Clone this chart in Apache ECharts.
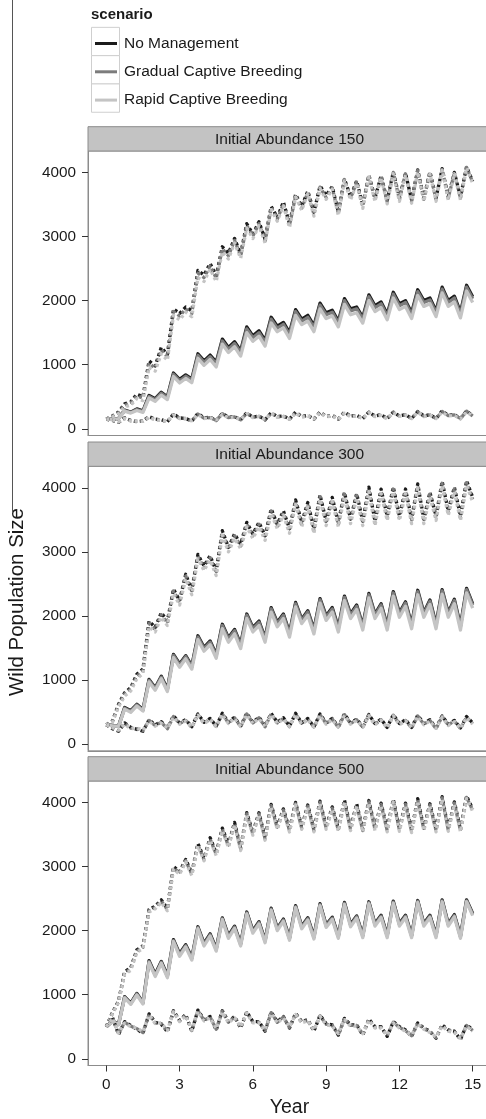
<!DOCTYPE html>
<html>
<head>
<meta charset="utf-8">
<title>Wild Population Size by Scenario</title>
<script src="https://cdn.jsdelivr.net/npm/echarts@6.0.0/dist/echarts.min.js"></script>
<style>
  html, body { margin: 0; padding: 0; background: #ffffff; }
  #chart { width: 486px; height: 1119px; }
</style>
</head>
<body>
<div id="chart"></div>
<script>
// Time steps (years, quarterly)
const quarters = [0,0.25,0.5,0.75,1,1.25,1.5,1.75,2,2.25,2.5,2.75,3,3.25,3.5,3.75,4,4.25,4.5,4.75,5,5.25,5.5,5.75,6,6.25,6.5,6.75,7,7.25,7.5,7.75,8,8.25,8.5,8.75,9,9.25,9.5,9.75,10,10.25,10.5,10.75,11,11.25,11.5,11.75,12,12.25,12.5,12.75,13,13.25,13.5,13.75,14,14.25,14.5,14.75,15];

const scenarios = ['No Management', 'Gradual Captive Breeding', 'Rapid Captive Breeding'];
const panelTitles = ['Initial Abundance 150', 'Initial Abundance 300', 'Initial Abundance 500'];
const yTicks = [0, 1000, 2000, 3000, 4000];
const xTicks = [0, 3, 6, 9, 12, 15];

// ---- Initial abundance 150 ----
const u1_nm = [150,200,260,390,420,540,500,1060,980,1270,1160,1870,1800,1900,1840,2470,2400,2580,2390,2840,2740,2970,2730,3200,3040,3230,2960,3470,3300,3540,3200,3660,3470,3710,3380,3790,3640,3780,3380,3900,3620,3870,3490,3960,3600,3950,3560,4010,3600,3990,3570,4040,3600,4010,3600,4060,3620,4000,3620,4090,3860];
const u1_gr = [150,195,250,370,400,515,480,1020,950,1230,1120,1830,1760,1870,1800,2430,2360,2540,2350,2810,2700,2940,2700,3170,3010,3200,2930,3450,3270,3510,3170,3640,3440,3690,3350,3770,3610,3760,3360,3890,3600,3850,3470,3950,3580,3940,3540,4000,3580,3980,3550,4030,3580,4000,3580,4050,3600,3990,3600,4080,3850];
const u1_rp = [150,185,235,340,370,470,440,960,900,1170,1070,1770,1700,1820,1750,2360,2300,2490,2300,2760,2650,2900,2660,3130,2970,3170,2900,3420,3240,3480,3140,3620,3410,3670,3320,3750,3580,3740,3330,3870,3570,3830,3440,3930,3550,3920,3510,3980,3550,3960,3520,4010,3550,3980,3550,4040,3570,3980,3570,4070,3830];
const m1_nm = [150,150,160,290,260,310,280,520,470,570,500,870,770,840,780,1170,1060,1150,1040,1400,1270,1360,1220,1590,1450,1530,1380,1740,1600,1660,1500,1860,1710,1770,1610,1960,1810,1850,1680,2030,1870,1900,1740,2090,1920,1980,1790,2130,1950,2000,1810,2170,2000,2040,1840,2210,2000,2070,1820,2240,2060];
const m1_gr = [150,150,160,285,255,300,270,505,455,555,485,850,750,820,760,1145,1035,1125,1015,1370,1240,1330,1190,1560,1420,1500,1350,1710,1570,1630,1470,1830,1680,1740,1580,1930,1780,1820,1650,2000,1840,1870,1710,2060,1890,1950,1760,2100,1920,1970,1780,2140,1970,2010,1810,2180,1970,2040,1790,2210,2030];
const m1_rp = [150,145,155,275,245,285,255,480,430,525,455,815,715,785,720,1100,990,1080,965,1320,1190,1280,1135,1500,1365,1445,1290,1650,1515,1575,1410,1770,1625,1680,1515,1870,1720,1760,1590,1940,1780,1810,1650,2000,1830,1890,1700,2040,1860,1910,1720,2080,1910,1950,1750,2120,1910,1980,1730,2150,1970];
const l1_nm = [150,130,100,170,130,110,120,190,150,140,110,230,170,160,120,240,170,180,130,240,180,190,140,250,180,200,140,250,190,200,150,260,190,210,150,260,190,210,150,260,200,210,160,260,200,220,160,260,200,220,160,270,200,220,160,280,210,220,160,280,200];
const l1_gr = [150,135,105,165,125,115,120,180,145,135,115,220,165,160,120,230,165,175,130,235,175,185,140,240,180,195,140,245,185,195,150,250,185,205,150,255,190,205,150,250,195,205,160,255,195,215,155,255,200,215,160,265,195,215,160,270,205,215,160,275,200];
const l1_rp = [150,140,110,160,120,120,115,175,140,130,120,210,160,155,125,220,160,170,135,225,170,180,145,235,175,190,145,240,180,190,150,245,180,200,155,250,185,200,150,245,190,200,160,250,190,210,155,250,195,210,160,255,190,210,160,260,200,210,155,265,195];

// ---- Initial abundance 300 ----
const u2_nm = [300,360,620,800,880,1090,1170,1920,1820,2050,1920,2420,2240,2650,2400,2960,2780,2940,2700,3330,3070,3280,3120,3460,3280,3460,3250,3670,3430,3640,3360,3810,3460,3770,3360,3890,3480,3850,3460,3930,3510,3910,3480,4010,3480,3980,3560,4010,3560,3980,3510,4060,3510,3930,3560,4100,3640,4010,3560,4110,3850];
const u2_gr = [300,350,600,780,860,1060,1140,1880,1790,2020,1890,2390,2210,2620,2370,2930,2750,2910,2670,3300,3040,3250,3090,3430,3250,3430,3220,3640,3400,3610,3330,3780,3430,3740,3330,3860,3450,3820,3430,3900,3480,3880,3450,3980,3450,3950,3530,3980,3530,3950,3480,4030,3480,3900,3530,4070,3610,3980,3530,4080,3820];
const u2_rp = [300,340,580,750,830,1020,1100,1830,1750,1980,1850,2350,2170,2580,2330,2890,2710,2870,2630,3260,3000,3210,3050,3390,3210,3390,3180,3600,3360,3570,3290,3740,3390,3700,3290,3820,3410,3780,3390,3860,3440,3840,3410,3940,3410,3910,3490,3940,3490,3910,3440,3990,3440,3860,3490,4030,3570,3940,3490,4040,3780];
const m2_nm = [300,290,280,570,520,620,540,1010,880,1060,860,1400,1250,1380,1220,1690,1510,1610,1400,1870,1660,1790,1560,2030,1820,1920,1660,2130,1900,2030,1740,2210,1950,2080,1790,2270,2000,2130,1820,2310,2030,2170,1850,2350,2030,2190,1850,2380,2050,2220,1870,2400,2050,2250,1870,2410,2050,2260,1850,2430,2190];
const m2_gr = [300,290,280,560,510,610,530,995,865,1045,845,1385,1235,1365,1205,1670,1490,1590,1380,1850,1640,1770,1540,2010,1800,1900,1640,2110,1880,2010,1720,2190,1930,2060,1770,2250,1980,2110,1800,2290,2010,2150,1830,2330,2010,2170,1830,2360,2030,2200,1850,2380,2030,2230,1850,2390,2030,2240,1830,2410,2170];
const m2_rp = [300,285,275,545,495,595,515,970,840,1020,820,1350,1200,1330,1170,1630,1450,1550,1340,1800,1590,1720,1490,1960,1750,1850,1590,2060,1830,1960,1670,2140,1880,2010,1720,2200,1930,2060,1750,2240,1960,2100,1780,2280,1960,2120,1780,2310,1980,2150,1800,2330,1980,2180,1800,2340,1980,2190,1780,2360,2120];
const l2_nm = [300,240,200,330,260,230,200,380,300,350,250,440,330,380,270,470,340,400,280,480,340,420,280,480,340,420,280,480,340,410,280,480,330,400,270,470,330,400,270,470,330,390,270,460,320,390,260,460,320,380,260,450,320,380,250,440,310,370,250,430,330];
const l2_gr = [300,250,210,320,250,240,210,370,290,340,240,430,320,370,260,460,330,390,270,470,330,410,270,470,330,410,270,470,330,400,270,470,320,390,260,460,320,390,260,460,320,380,260,450,310,380,250,450,310,370,250,440,310,370,240,430,300,360,240,420,320];
const l2_rp = [300,260,220,310,240,250,220,360,280,330,250,420,310,360,265,450,320,380,275,460,320,400,275,460,320,400,275,460,320,390,275,460,310,380,265,450,310,380,265,450,310,370,265,440,300,370,255,440,300,360,255,430,300,360,245,420,290,350,245,410,310];

// ---- Initial abundance 500 ----
const u3_nm = [500,720,900,1360,1420,1700,1760,2330,2380,2480,2350,3000,2920,3110,2900,3360,3130,3450,3210,3600,3340,3690,3290,3840,3530,3840,3450,3970,3620,3900,3580,4000,3620,3960,3580,4020,3620,3930,3590,4040,3600,3980,3580,4030,3600,3990,3580,4050,3590,3990,3570,4060,3600,3980,3580,4090,3590,4010,3580,4100,3900];
const u3_gr = [500,710,890,1340,1400,1680,1740,2310,2360,2460,2330,2980,2900,3090,2880,3340,3110,3430,3190,3580,3320,3670,3270,3820,3510,3820,3430,3950,3600,3880,3560,3980,3600,3940,3560,4000,3600,3910,3570,4020,3580,3960,3560,4010,3580,3970,3560,4030,3570,3970,3550,4040,3580,3960,3560,4070,3570,3990,3560,4080,3880];
const u3_rp = [500,700,880,1320,1380,1660,1720,2290,2340,2440,2310,2960,2880,3070,2860,3320,3090,3410,3170,3560,3300,3650,3250,3800,3490,3800,3410,3930,3580,3860,3540,3960,3580,3920,3540,3980,3580,3890,3550,4000,3560,3940,3540,3990,3560,3950,3540,4010,3550,3950,3530,4020,3560,3940,3540,4050,3550,3970,3540,4060,3860];
const m3_nm = [500,590,540,970,870,1020,880,1530,1320,1520,1300,1860,1640,1780,1580,2060,1800,1950,1720,2200,1920,2070,1800,2290,2000,2140,1850,2350,2040,2180,1890,2390,2070,2200,1910,2420,2090,2210,1920,2440,2100,2230,1930,2450,2110,2240,1930,2460,2110,2240,1930,2470,2110,2240,1930,2480,2110,2250,1920,2480,2270];
const m3_gr = [500,585,535,960,860,1010,870,1515,1305,1505,1285,1845,1625,1765,1565,2045,1785,1935,1705,2185,1905,2055,1785,2275,1985,2125,1835,2335,2025,2165,1875,2375,2055,2185,1895,2405,2075,2195,1905,2425,2085,2215,1915,2435,2095,2225,1915,2445,2095,2225,1915,2455,2095,2225,1915,2465,2095,2235,1905,2465,2255];
const m3_rp = [500,580,530,950,850,995,855,1500,1285,1490,1265,1830,1600,1745,1540,2030,1760,1915,1680,2170,1880,2035,1760,2260,1960,2105,1810,2320,2000,2145,1850,2360,2030,2165,1870,2390,2050,2175,1880,2410,2060,2195,1890,2420,2070,2205,1890,2430,2070,2205,1890,2440,2070,2205,1890,2450,2070,2215,1880,2450,2235];
const l3_nm = [500,650,380,580,520,460,400,700,570,540,420,750,600,690,430,760,610,660,450,750,580,660,480,730,580,580,430,730,580,660,480,710,580,610,430,680,550,530,370,630,530,530,370,620,500,500,350,580,500,450,350,560,480,430,320,530,450,430,300,530,450];
const l3_gr = [500,640,390,570,510,470,410,690,560,550,430,740,590,680,440,750,600,650,460,740,570,650,490,720,570,570,440,720,570,650,490,700,570,600,440,670,540,520,380,620,520,520,380,610,490,490,360,570,490,440,360,550,470,420,330,520,440,420,310,520,440];
const l3_rp = [500,630,400,560,500,480,420,680,550,560,440,730,580,670,450,740,590,640,470,730,560,640,500,710,560,560,450,710,560,640,500,690,560,590,450,660,530,510,390,610,510,510,390,600,480,480,370,560,480,430,370,540,460,410,340,510,430,410,320,510,430];

const panelData = [
  { middle: [m1_nm, m1_gr, m1_rp], upper: [u1_nm, u1_gr, u1_rp], lower: [l1_nm, l1_gr, l1_rp] },
  { middle: [m2_nm, m2_gr, m2_rp], upper: [u2_nm, u2_gr, u2_rp], lower: [l2_nm, l2_gr, l2_rp] },
  { middle: [m3_nm, m3_gr, m3_rp], upper: [u3_nm, u3_gr, u3_rp], lower: [l3_nm, l3_gr, l3_rp] }
];

panelData.forEach(function (p) {
  ['middle', 'upper', 'lower'].forEach(function (k) {
    p[k].forEach(function (arr) {
      if (arr.length !== quarters.length) throw new Error('series length ' + arr.length);
    });
  });
});

// ---- styling / layout ----
const FONT = '"Liberation Sans", Arial, Helvetica, sans-serif';
const lineColors = ['#1b1b1b', '#7c7c7c', '#c4c4c4'];
const BORDER = '#8c8c8c';
const PANEL_LEFT = 88, PANEL_WIDTH = 403, PANEL_HEIGHT = 284.5, STRIP_HEIGHT = 24.3;
const stripTops = [126.7, 442, 756.7];
const LINE_W = 3.3;

const grids = [], xAxes = [], yAxes = [], series = [], graphics = [];

stripTops.forEach(function (st, i) {
  const top = st + STRIP_HEIGHT;
  const last = i === stripTops.length - 1;
  grids.push({
    left: PANEL_LEFT, top: top, width: PANEL_WIDTH, height: PANEL_HEIGHT,
    show: true, borderColor: BORDER, borderWidth: 1, backgroundColor: '#ffffff',
    containLabel: false, outerBoundsMode: 'none'
  });
  xAxes.push({
    type: 'value', gridIndex: i, min: -0.75, max: 15.75, position: 'bottom',
    splitLine: { show: false },
    axisLine: { show: true, onZero: false, lineStyle: { color: BORDER, width: 1 } },
    axisTick: { show: last, length: 6, customValues: xTicks, lineStyle: { color: '#333333', width: 1 } },
    axisLabel: { show: last, customValues: xTicks, margin: 12, fontSize: 15.3, color: '#1a1a1a', fontFamily: FONT },
    name: last ? 'Year' : '',
    nameLocation: 'middle', nameGap: 42.5,
    nameTextStyle: { fontSize: 19.5, color: '#1a1a1a', fontFamily: FONT, verticalAlign: 'middle' }
  });
  yAxes.push({
    type: 'value', gridIndex: i, min: -105, max: 4335, position: 'left',
    splitLine: { show: false },
    axisLine: { show: true, onZero: false, lineStyle: { color: BORDER, width: 1 } },
    axisTick: { show: true, length: 6, customValues: yTicks, lineStyle: { color: '#333333', width: 1 } },
    axisLabel: {
      customValues: yTicks, margin: 12, fontSize: 15.3, color: '#1a1a1a', fontFamily: FONT,
      formatter: function (v) { return String(Math.round(v)); }
    }
  });

  // facet strip
  graphics.push({
    type: 'rect', z: 10,
    shape: { x: PANEL_LEFT, y: st, width: PANEL_WIDTH, height: STRIP_HEIGHT },
    style: { fill: '#c3c3c3', stroke: BORDER, lineWidth: 1 }
  });
  graphics.push({
    type: 'text', z: 11, x: PANEL_LEFT + PANEL_WIDTH / 2, y: st + STRIP_HEIGHT / 2 + 1,
    style: { text: panelTitles[i], fontSize: 15.5, fontFamily: FONT, fill: '#1a1a1a', align: 'center', verticalAlign: 'middle' }
  });

  const p = panelData[i];
  const groups = [
    { arrs: p.middle, type: 'solid' },
    { arrs: p.upper, type: [3, 3] },
    { arrs: p.lower, type: [3, 3] }
  ];
  groups.forEach(function (g) {
    g.arrs.forEach(function (arr, s) {
      series.push({
        type: 'line', name: scenarios[s], xAxisIndex: i, yAxisIndex: i,
        data: quarters.map(function (t, k) { return [t, arr[k]]; }),
        showSymbol: false, symbol: 'none', silent: true, animation: false,
        color: lineColors[s],
        lineStyle: { color: lineColors[s], width: LINE_W, type: g.type, cap: 'butt', join: 'round' }
      });
    });
  });
});

// legend key boxes and title
const KEY_H = 28.3;
const legendRowY = [41.5, 41.5 + KEY_H, 41.5 + 2 * KEY_H];
legendRowY.forEach(function (cy) {
  graphics.push({
    type: 'rect', z: 1,
    shape: { x: 91.5, y: cy - KEY_H / 2, width: 28, height: KEY_H },
    style: { fill: '#ffffff', stroke: '#cfcfcf', lineWidth: 1 }
  });
});
graphics.push({
  type: 'text', x: 91, y: 15,
  style: { text: 'scenario', fontSize: 15, fontWeight: 'bold', fontFamily: FONT, fill: '#1a1a1a', verticalAlign: 'middle' }
});
// axis title
graphics.push({
  type: 'text', x: 17, y: 602, rotation: Math.PI / 2,
  style: { text: 'Wild Population Size', fontSize: 20.5, fontFamily: FONT, fill: '#1a1a1a', align: 'center', verticalAlign: 'middle' }
});
// frame line at the left edge
graphics.push({
  type: 'line', shape: { x1: 12.5, y1: 0, x2: 12.5, y2: 512 },
  style: { stroke: '#555555', lineWidth: 1 }
});

const chart = echarts.init(document.getElementById('chart'), null, { renderer: 'canvas' });
chart.setOption({
  animation: false,
  backgroundColor: '#ffffff',
  textStyle: { fontFamily: FONT },
  legend: {
    data: scenarios,
    orient: 'vertical', left: 90, top: 29.5,
    icon: 'rect',
    itemWidth: 22, itemHeight: 3, itemGap: KEY_H - 18,
    selectedMode: false,
    textStyle: { fontSize: 15.5, color: '#1a1a1a', fontFamily: FONT, lineHeight: 18, padding: [0, 0, 0, 2] }
  },
  grid: grids,
  xAxis: xAxes,
  yAxis: yAxes,
  series: series,
  graphic: graphics
});
</script>
</body>
</html>
